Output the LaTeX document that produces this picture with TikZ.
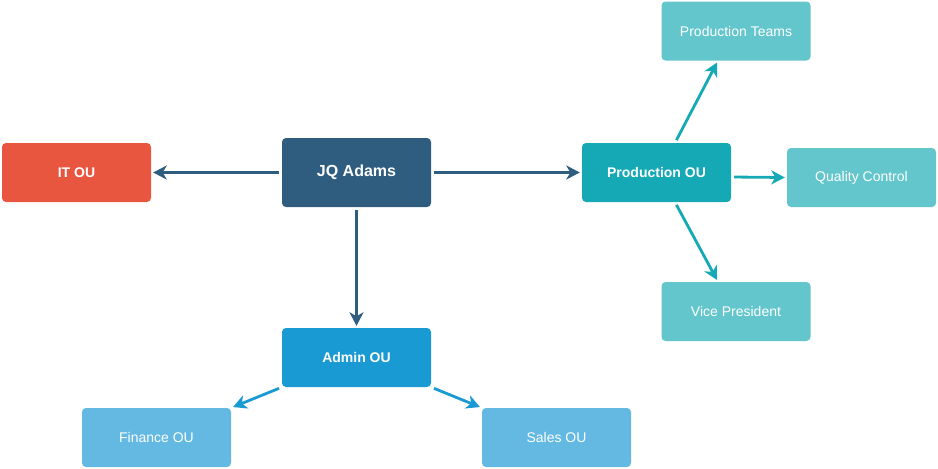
\documentclass[tikz,border=0pt]{standalone}
\usepackage{fontspec}
\setmainfont{Liberation Sans}
\usetikzlibrary{arrows.meta,calc}
\definecolor{itred}{HTML}{E95640}
\definecolor{jqblue}{HTML}{2F5D80}
\definecolor{proteal}{HTML}{14A9B5}
\definecolor{lteal}{HTML}{63C6CD}
\definecolor{admblue}{HTML}{1A9AD3}
\definecolor{lblue}{HTML}{63B9E1}
\tikzset{
  box/.style={rectangle, rounded corners=4pt, minimum width=149pt, minimum height=59pt, inner sep=0pt, text=white, font=\fontsize{14}{16}\selectfont},
  mainbox/.style={box, font=\bfseries\fontsize{14}{16}\selectfont},
  conn/.style={line width=2.8pt, -{Stealth[length=13.5pt,width=14pt,inset=4pt]}, shorten <=3pt, shorten >=2pt},
}
\begin{document}
\begin{tikzpicture}[x=1pt,y=-1pt]
\useasboundingbox (0,0) rectangle (938,469);
\node[mainbox, fill=itred] (it) at (76.5,172.5) {IT OU};
\node[mainbox, fill=jqblue, minimum height=69pt, font=\bfseries\fontsize{16}{18}\selectfont] (jq) at (356.5,172.5) {JQ Adams};
\node[mainbox, fill=proteal] (po) at (656.5,172.5) {Production OU};
\node[box, fill=lteal] (pt) at (736,31) {Production Teams};
\node[box, fill=lteal] (qc) at (861.5,177.5) {Quality Control};
\node[box, fill=lteal] (vp) at (736,311.5) {Vice President};
\node[mainbox, fill=admblue] (ad) at (356.5,357.5) {Admin OU};
\node[box, fill=lblue] (fi) at (156.5,437.5) {Finance OU};
\node[box, fill=lblue] (sa) at (556.5,437.5) {Sales OU};

\draw[conn, draw=jqblue] (jq.west) -- (it.east);
\draw[conn, draw=jqblue] (jq.east) -- (po.west);
\draw[conn, draw=jqblue] (jq.south) -- (ad.north);
\draw[conn, draw=proteal] ($(po.north)+(18.5,0)$) -- ($(pt.south)+(-18,0)$);
\draw[conn, draw=proteal] ($(po.east)+(0,4.5)$) -- (qc.west);
\draw[conn, draw=proteal] ($(po.south)+(18.5,0)$) -- ($(vp.north)+(-18,0)$);
\draw[conn, draw=admblue] (ad.south west) -- (fi.north east);
\draw[conn, draw=admblue] (ad.south east) -- (sa.north west);
\end{tikzpicture}
\end{document}
